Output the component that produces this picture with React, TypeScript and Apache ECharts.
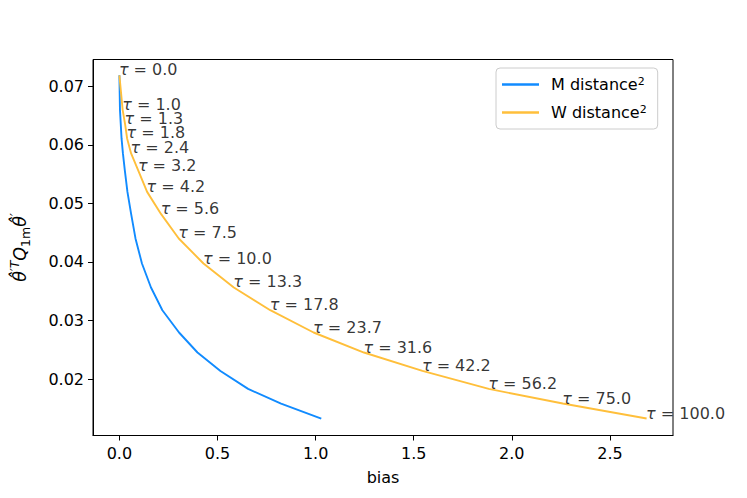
import React, { useEffect, useRef } from "react";
import * as echarts from "echarts";

const tauValues = [0.0, 1.0, 1.3, 1.8, 2.4, 3.2, 4.2, 5.6, 7.5, 10.0, 13.3, 17.8, 23.7, 31.6, 42.2, 56.2, 75.0, 100.0];
const yValues = [0.0719, 0.06595, 0.06356, 0.06111, 0.05855, 0.05557, 0.05198, 0.04817, 0.04402, 0.03974, 0.03564, 0.03176, 0.02795, 0.02453, 0.02138, 0.01831, 0.01581, 0.01325];
const mBias = [0, 0.003, 0.007, 0.011, 0.018, 0.028, 0.041, 0.06, 0.082, 0.115, 0.161, 0.219, 0.304, 0.398, 0.515, 0.656, 0.824, 1.029];
const wBias = [0, 0.0168, 0.029, 0.0393, 0.0597, 0.0969, 0.1413, 0.2128, 0.3026, 0.4286, 0.5832, 0.7689, 0.9898, 1.2464, 1.5444, 1.8827, 2.2597, 2.687];
const xTicks = [0, 0.5, 1.0, 1.5, 2.0, 2.5];
const yTicks = [0.02, 0.03, 0.04, 0.05, 0.06, 0.07];
const seriesNames = ["M distance", "W distance"];

const FONT = "DejaVu Sans";
const FS = 16;

export default function App() {
  const ref = useRef<HTMLDivElement>(null);
  useEffect(() => {
    if (!ref.current) return;
    const chart = echarts.init(ref.current, undefined, { renderer: "svg" });
    const mData = mBias.map((x, i) => [x, yValues[i]]);
    const wData = wBias.map((x, i) => [x, yValues[i]]);
    chart.setOption({
      animation: false,
      backgroundColor: "#ffffff",
      grid: {
        left: 93,
        top: 59.5,
        width: 580,
        height: 376,
        outerBoundsMode: "none",
        containLabel: false,
        show: true,
        borderColor: "#000",
        borderWidth: 1,
        backgroundColor: "transparent",
      },
      legend: {
        orient: "vertical",
        left: 496,
        top: 68,
        data: seriesNames,
        icon: "rect",
        itemWidth: 37,
        itemHeight: 2.5,
        itemGap: 11,
        padding: [8, 11, 8, 6],
        backgroundColor: "rgba(255,255,255,0.8)",
        borderColor: "#cccccc",
        borderWidth: 1,
        borderRadius: 4,
        formatter: (name: string) => `{n|${name}}{s|2}`,
        textStyle: {
          fontFamily: FONT,
          fontSize: FS,
          color: "#000",
          lineHeight: 17,
          padding: [0, 0, 0, 7],
          rich: {
            n: { fontFamily: FONT, fontSize: FS, color: "#000", lineHeight: 17, verticalAlign: "middle" },
            s: { fontFamily: FONT, fontSize: 11, color: "#000", lineHeight: 17, verticalAlign: "top" },
          },
        },
      },
      xAxis: {
        type: "value",
        min: -0.1345,
        max: 2.8215,
        splitLine: { show: false },
        axisLine: { show: true, onZero: false, lineStyle: { color: "#000", width: 1 } },
        axisTick: { show: true, length: 5, customValues: xTicks, lineStyle: { color: "#000" } },
        axisLabel: {
          customValues: xTicks,
          formatter: (v: number) => v.toFixed(1),
          fontFamily: FONT,
          fontSize: FS,
          color: "#000",
          margin: 10,
        },
        name: "bias",
        nameLocation: "middle",
        nameGap: 34,
        nameTextStyle: { fontFamily: FONT, fontSize: FS, color: "#000" },
      },
      yAxis: {
        type: "value",
        min: 0.01035,
        max: 0.0746,
        splitLine: { show: false },
        axisLine: { show: true, onZero: false, lineStyle: { color: "#000", width: 1 } },
        axisTick: { show: true, length: 5, customValues: yTicks, lineStyle: { color: "#000" } },
        axisLabel: {
          customValues: yTicks,
          formatter: (v: number) => v.toFixed(2),
          fontFamily: FONT,
          fontSize: FS,
          color: "#000",
          margin: 9,
        },
        name: "{i|θ̂}{s|′T}{i|Q}{b|1m}{i|θ̂}{s|′}",
        nameLocation: "middle",
        nameRotate: 90,
        nameGap: 61,
        nameTextStyle: {
          fontFamily: FONT,
          color: "#000",
          rich: {
            i: { fontFamily: FONT, fontStyle: "italic", fontSize: 17.5, lineHeight: 24, verticalAlign: "middle" },
            s: { fontFamily: FONT, fontStyle: "italic", fontSize: 12.5, lineHeight: 24, verticalAlign: "top" },
            b: { fontFamily: FONT, fontSize: 12.5, lineHeight: 24, verticalAlign: "bottom" },
          },
        },
      },
      series: [
        {
          name: seriesNames[0],
          type: "line",
          data: mData,
          symbol: "none",
          lineStyle: { color: "#118bff", width: 1.9 },
          itemStyle: { color: "#118bff" },
        },
        {
          name: seriesNames[1],
          type: "line",
          data: wData,
          symbol: "none",
          lineStyle: { color: "#ffbf3b", width: 1.9 },
          itemStyle: { color: "#ffbf3b" },
          z: 3,
        },
        {
          name: "tauLabels",
          type: "scatter",
          data: wData,
          symbolSize: 1,
          itemStyle: { color: "rgba(0,0,0,0)" },
          silent: true,
          z: 5,
          label: {
            show: true,
            position: [0, 0],
            align: "left",
            verticalAlign: "bottom",
            offset: [0, 3],
            fontFamily: FONT,
            fontSize: FS,
            color: "#000",
            formatter: (p: any) => `{t|τ}{n| = ${tauValues[p.dataIndex].toFixed(1)}}`,
            rich: {
              t: { fontFamily: FONT, fontStyle: "italic", fontSize: FS, color: "#000" },
              n: { fontFamily: FONT, fontSize: FS, color: "#000" },
            },
          },
        },
      ],
    });
    return () => chart.dispose();
  }, []);
  return (
    <div
      ref={ref}
      style={{ position: "absolute", left: 0, top: 0, width: 747, height: 498, background: "#fff" }}
    />
  );
}
